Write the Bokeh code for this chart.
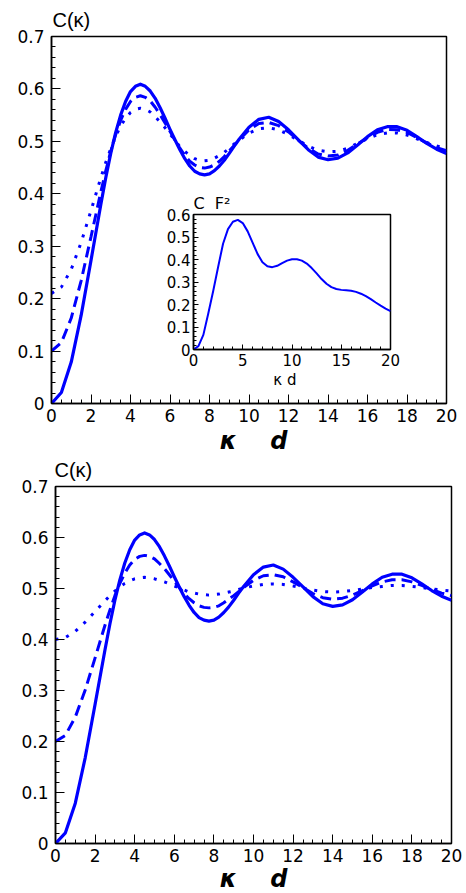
from bokeh.plotting import figure
from bokeh.models import FixedTicker, Range1d, CustomJSTickFormatter, Title
from bokeh.layouts import column
from bokeh.embed import file_html
from bokeh.resources import INLINE

# ---------------- data ----------------
kd = [0.0, 0.5, 1.0, 1.5, 2.0, 2.5,
      2.75, 3.0, 3.25, 3.5, 3.75, 4.0, 4.25, 4.5, 4.75, 5.0, 5.25, 5.5, 5.75, 6.0,
      6.25, 6.5, 6.75, 7.0, 7.25, 7.5, 7.75, 8.0, 8.25, 8.5, 8.75, 9.0, 9.25, 9.5,
      10.0, 10.5, 11.0, 11.5, 12.0, 12.5, 13.0, 13.5, 14.0, 14.5, 15.0, 15.5,
      16.0, 16.5, 17.0, 17.5, 18.0, 18.5, 19.0, 19.5, 20.0]

# panel (a)
a_solid = [0.000, 0.021, 0.079, 0.168, 0.273, 0.380,
           0.431, 0.477, 0.517, 0.550, 0.576, 0.595, 0.605, 0.609, 0.605, 0.596, 0.582, 0.564, 0.544, 0.523,
           0.503, 0.484, 0.467, 0.453, 0.443, 0.438, 0.436, 0.438, 0.444, 0.453, 0.464, 0.477, 0.491, 0.504,
           0.527, 0.542, 0.546, 0.538, 0.522, 0.503, 0.484, 0.470, 0.465, 0.468, 0.478, 0.493,
           0.509, 0.522, 0.528, 0.528, 0.521, 0.509, 0.496, 0.485, 0.477]
a_dashed = [0.100, 0.116, 0.163, 0.234, 0.318, 0.404,
            0.444, 0.481, 0.513, 0.540, 0.561, 0.576, 0.584, 0.587, 0.584, 0.577, 0.565, 0.551, 0.535, 0.519,
            0.502, 0.487, 0.473, 0.462, 0.455, 0.450, 0.449, 0.451, 0.455, 0.462, 0.471, 0.482, 0.492, 0.503,
            0.522, 0.534, 0.536, 0.530, 0.518, 0.502, 0.487, 0.476, 0.472, 0.474, 0.483, 0.495,
            0.507, 0.517, 0.523, 0.522, 0.517, 0.507, 0.497, 0.488, 0.482]
a_dotted = [0.210, 0.222, 0.256, 0.307, 0.368, 0.431,
            0.460, 0.486, 0.510, 0.529, 0.544, 0.555, 0.561, 0.563, 0.561, 0.556, 0.547, 0.537, 0.526, 0.514,
            0.502, 0.490, 0.481, 0.473, 0.467, 0.464, 0.463, 0.464, 0.468, 0.473, 0.479, 0.487, 0.495, 0.502,
            0.516, 0.524, 0.526, 0.522, 0.513, 0.502, 0.491, 0.483, 0.480, 0.481, 0.487, 0.496,
            0.505, 0.513, 0.516, 0.516, 0.512, 0.505, 0.498, 0.491, 0.487]

# panel (b)
b_solid = [0.000, 0.021, 0.079, 0.168, 0.273, 0.380,
           0.431, 0.477, 0.517, 0.550, 0.576, 0.595, 0.605, 0.609, 0.605, 0.596, 0.582, 0.564, 0.544, 0.523,
           0.503, 0.484, 0.467, 0.453, 0.443, 0.438, 0.436, 0.438, 0.444, 0.453, 0.464, 0.477, 0.491, 0.504,
           0.527, 0.542, 0.546, 0.538, 0.522, 0.503, 0.484, 0.470, 0.465, 0.468, 0.478, 0.493,
           0.509, 0.522, 0.528, 0.528, 0.521, 0.509, 0.496, 0.485, 0.477]
b_dashed = [0.200, 0.212, 0.248, 0.301, 0.364, 0.428,
            0.458, 0.486, 0.510, 0.530, 0.546, 0.557, 0.563, 0.565, 0.563, 0.558, 0.549, 0.539, 0.527, 0.514,
            0.502, 0.490, 0.480, 0.472, 0.466, 0.463, 0.462, 0.463, 0.466, 0.472, 0.479, 0.486, 0.494, 0.502,
            0.516, 0.525, 0.527, 0.523, 0.513, 0.502, 0.490, 0.482, 0.479, 0.481, 0.487, 0.496,
            0.505, 0.513, 0.517, 0.517, 0.513, 0.506, 0.498, 0.491, 0.486]
b_dotted = [0.400, 0.404, 0.416, 0.434, 0.455, 0.476,
            0.486, 0.495, 0.503, 0.510, 0.515, 0.519, 0.521, 0.522, 0.521, 0.519, 0.516, 0.513, 0.509, 0.505,
            0.501, 0.497, 0.493, 0.491, 0.489, 0.488, 0.487, 0.488, 0.489, 0.491, 0.493, 0.495, 0.498, 0.501,
            0.505, 0.508, 0.509, 0.508, 0.505, 0.501, 0.497, 0.494, 0.493, 0.494, 0.496, 0.499,
            0.502, 0.504, 0.506, 0.506, 0.504, 0.502, 0.499, 0.497, 0.495]

# inset C F^2
inset_kd = [0.0, 0.5, 1.0, 1.5, 2.0, 2.5, 3.0, 3.5, 4.0, 4.5, 5.0, 5.5, 6.0, 6.5, 7.0,
            7.5, 8.0, 8.5, 9.0, 9.5, 10.0, 10.5, 11.0, 11.5, 12.0, 12.5, 13.0, 13.5,
            14.0, 14.5, 15.0, 15.5, 16.0, 16.5, 17.0, 17.5, 18.0, 18.5, 19.0, 19.5, 20.0]
inset_cf2 = [0.000, 0.015, 0.065, 0.160, 0.260, 0.367, 0.470, 0.535, 0.568, 0.576,
             0.562, 0.525, 0.475, 0.425, 0.388, 0.370, 0.366, 0.372, 0.384, 0.395,
             0.401, 0.401, 0.395, 0.382, 0.362, 0.338, 0.313, 0.292, 0.277, 0.269,
             0.265, 0.263, 0.261, 0.256, 0.248, 0.237, 0.224, 0.209, 0.195, 0.182, 0.171]

x_ticks = [0, 2, 4, 6, 8, 10, 12, 14, 16, 18, 20]
y_ticks = [0, 0.1, 0.2, 0.3, 0.4, 0.5, 0.6, 0.7]
inset_x_ticks = [0, 5, 10, 15, 20]
inset_y_ticks = [0, 0.1, 0.2, 0.3, 0.4, 0.5, 0.6]

NBSP = "\u00a0"
panel_title = "C(κ)"
x_title = "κ" + NBSP * 4 + "d"
inset_title = "C" + NBSP * 2 + "F²"
inset_x_title = "κ" + NBSP + "d" + NBSP * 3

BLUE = "#0000ff"
TICK_FONT = "DejaVu Sans"


def style_axes(p, xt, xminor, yt, yminor, size, tin, tmin, standoff_x, standoff_y):
    p.xaxis.ticker = FixedTicker(ticks=xt, minor_ticks=xminor)
    p.yaxis.ticker = FixedTicker(ticks=yt, minor_ticks=yminor)
    p.yaxis.formatter = CustomJSTickFormatter(code="return tick == 0 ? '0' : tick.toFixed(1);")
    p.grid.visible = False
    for ax in (p.xaxis, p.yaxis):
        ax.major_tick_in = tin
        ax.major_tick_out = 0
        ax.minor_tick_in = tmin
        ax.minor_tick_out = 0
        ax.axis_line_color = "black"
        ax.axis_line_width = 1.5
        ax.major_tick_line_width = 1
        ax.minor_tick_line_width = 1
        ax.major_label_text_font = TICK_FONT
        ax.major_label_text_font_size = size
        ax.major_label_text_color = "black"
    p.xaxis.major_label_standoff = standoff_x
    p.yaxis.major_label_standoff = standoff_y
    p.outline_line_color = "black"
    p.outline_line_width = 1.5
    p.outline_line_alpha = 1.0


x_minor = [i * 0.5 for i in range(41)]
y_minor = [round(i * 0.02, 2) for i in range(36)]


def draw_curves(p, solid, dashed, dotted):
    p.line(kd, dotted, line_color=BLUE, line_width=3, line_dash="3 8", line_cap="butt")
    p.line(kd, dashed, line_color=BLUE, line_width=3, line_dash="11 6", line_cap="butt")
    p.line(kd, solid, line_color=BLUE, line_width=3.2, line_join="round")


def c_title(offset, standoff):
    return Title(text=panel_title, align="left", offset=offset, standoff=standoff,
                 text_font="Liberation Sans", text_font_size="20px",
                 text_font_style="normal", text_color="black")


def kd_title(offset, standoff):
    return Title(text=x_title, align="center", offset=offset, standoff=standoff,
                 text_font="DejaVu Sans", text_font_size="24px",
                 text_font_style="bold italic", text_color="black")


# ---------------- panel (a) ----------------
pa = figure(width=465, height=428, output_backend="svg", toolbar_location=None,
            x_range=Range1d(0, 20), y_range=Range1d(0, 0.7),
            min_border_left=55, min_border_right=15, min_border_top=36,
            min_border_bottom=25, title=None,
            styles={"position": "relative", "left": "-4px"})
style_axes(pa, x_ticks, x_minor, y_ticks, y_minor, "17px", 9, 4, 5, 7)
draw_curves(pa, a_solid, a_dashed, a_dotted)
pa.add_layout(c_title(1, 11), "above")

# ---------------- panel (b) ----------------
pb = figure(width=466, height=465, output_backend="svg", toolbar_location=None,
            x_range=Range1d(0, 20), y_range=Range1d(0, 0.7),
            min_border_left=55, min_border_right=15, min_border_top=54,
            min_border_bottom=50, title=None)
style_axes(pb, x_ticks, x_minor, y_ticks, y_minor, "17px", 9, 4, 5, 7)
draw_curves(pb, b_solid, b_dashed, b_dotted)
pb.add_layout(c_title(-1, 12), "above")         # title of panel (b)
pb.add_layout(kd_title(-8, -8), "above")        # x-axis title of panel (a)
pb.add_layout(kd_title(-13, -3), "below")       # x-axis title of panel (b)

# ---------------- inset ----------------
pi = figure(width=267, height=201, output_backend="svg", toolbar_location=None,
            x_range=Range1d(0, 20), y_range=Range1d(0, 0.6),
            min_border_left=55, min_border_right=15, min_border_top=20,
            min_border_bottom=40, title=None,
            styles={"position": "absolute", "left": "138px", "top": "190px"})
pi.border_fill_alpha = 0
pi.background_fill_alpha = 0
style_axes(pi, inset_x_ticks, [float(i) for i in range(21)], inset_y_ticks,
           [round(i * 0.02, 2) for i in range(31)], "15px", 5, 3, 4, 3)
pi.line(inset_kd, inset_cf2, line_color=BLUE, line_width=2, line_join="round")
pi.add_layout(Title(text=inset_title, align="left", offset=0, standoff=3,
                    text_font="DejaVu Sans", text_font_size="16px",
                    text_font_style="normal", text_color="black"), "above")
pi.xaxis.axis_label = inset_x_title
pi.xaxis.axis_label_standoff = 2
pi.xaxis.axis_label_text_font = "DejaVu Sans"
pi.xaxis.axis_label_text_font_size = "15px"
pi.xaxis.axis_label_text_font_style = "normal"
pi.xaxis.axis_label_text_color = "black"

layout = column(pa, pb, pi)
open("out.html", "w").write(file_html(layout, INLINE))
